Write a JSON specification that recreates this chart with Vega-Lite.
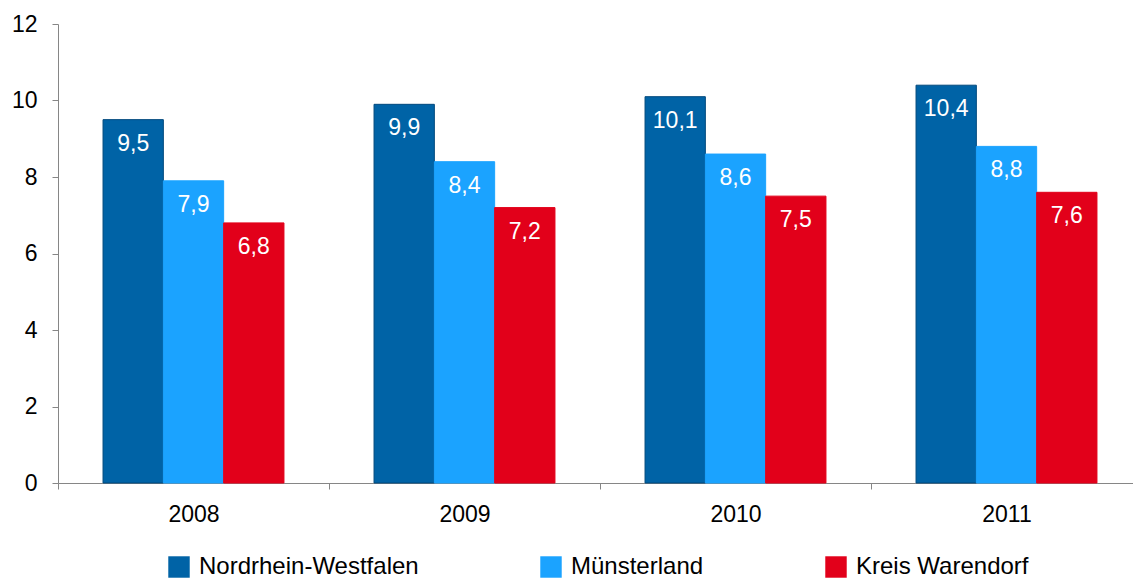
{
  "$schema": "https://vega.github.io/schema/vega-lite/v6.json",
  "autosize": {"type": "none"},
  "padding": {"left": 58, "top": 24, "right": 0, "bottom": 95},
  "width": 1084,
  "height": 459,
  "config": {
    "font": "Liberation Sans",
    "view": {"stroke": null},
    "locale": {"number": {"decimal": ",", "thousands": ".", "grouping": [3], "currency": ["", " €"]}}
  },
  "data": {
    "values": [
      {"Jahr": "2008", "Region": "Nordrhein-Westfalen", "Wert": 9.5},
      {"Jahr": "2008", "Region": "Münsterland", "Wert": 7.9},
      {"Jahr": "2008", "Region": "Kreis Warendorf", "Wert": 6.8},
      {"Jahr": "2009", "Region": "Nordrhein-Westfalen", "Wert": 9.9},
      {"Jahr": "2009", "Region": "Münsterland", "Wert": 8.4},
      {"Jahr": "2009", "Region": "Kreis Warendorf", "Wert": 7.2},
      {"Jahr": "2010", "Region": "Nordrhein-Westfalen", "Wert": 10.1},
      {"Jahr": "2010", "Region": "Münsterland", "Wert": 8.6},
      {"Jahr": "2010", "Region": "Kreis Warendorf", "Wert": 7.5},
      {"Jahr": "2011", "Region": "Nordrhein-Westfalen", "Wert": 10.4},
      {"Jahr": "2011", "Region": "Münsterland", "Wert": 8.8},
      {"Jahr": "2011", "Region": "Kreis Warendorf", "Wert": 7.6}
    ]
  },
  "encoding": {
    "x": {
      "field": "Jahr", "type": "nominal",
      "scale": {"paddingInner": 0, "paddingOuter": 0},
      "axis": {
        "title": null, "labelAngle": 0, "labelFontSize": 23, "labelColor": "#000000",
        "labelPadding": 14, "domainColor": "#868686", "tickColor": "#868686",
        "tickSize": 6, "tickBand": "extent", "grid": false
      }
    },
    "xOffset": {
      "field": "Region", "type": "nominal",
      "sort": ["Nordrhein-Westfalen", "Münsterland", "Kreis Warendorf"],
      "scale": {"paddingInner": 0, "paddingOuter": 0.747}
    },
    "y": {
      "field": "Wert", "type": "quantitative",
      "scale": {"domain": [0, 12], "nice": false},
      "axis": {
        "title": null, "values": [0, 2, 4, 6, 8, 10, 12], "labelFontSize": 23,
        "labelColor": "#000000", "labelPadding": 15, "domainColor": "#868686",
        "tickColor": "#868686", "tickSize": 6, "grid": false, "format": "d"
      }
    }
  },
  "layer": [
    {
      "mark": {"type": "bar", "strokeWidth": 1},
      "encoding": {
        "color": {
          "field": "Region", "type": "nominal",
          "sort": ["Nordrhein-Westfalen", "Münsterland", "Kreis Warendorf"],
          "scale": {
            "domain": ["Nordrhein-Westfalen", "Münsterland", "Kreis Warendorf"],
            "range": ["#0063A6", "#1BA3FF", "#E2001A"]
          },
          "legend": {
            "title": null, "orient": "none", "legendX": 109, "legendY": 531,
            "direction": "horizontal", "columns": 3, "columnPadding": 120,
            "symbolType": "square", "symbolSize": 460, "symbolStrokeWidth": 0,
            "symbolOpacity": 1, "labelFontSize": 24, "labelColor": "#000000",
            "labelOffset": 8, "labelLimit": 400
          }
        },
        "stroke": {
          "field": "Region", "type": "nominal",
          "scale": {
            "domain": ["Nordrhein-Westfalen", "Münsterland", "Kreis Warendorf"],
            "range": ["#00497D", "#1BA3FF", "#E2001A"]
          },
          "legend": null
        }
      }
    },
    {
      "mark": {"type": "text", "color": "#FFFFFF", "fontSize": 23, "baseline": "middle", "dy": 24},
      "encoding": {
        "text": {"field": "Wert", "type": "quantitative", "format": ".1f"}
      }
    }
  ]
}
